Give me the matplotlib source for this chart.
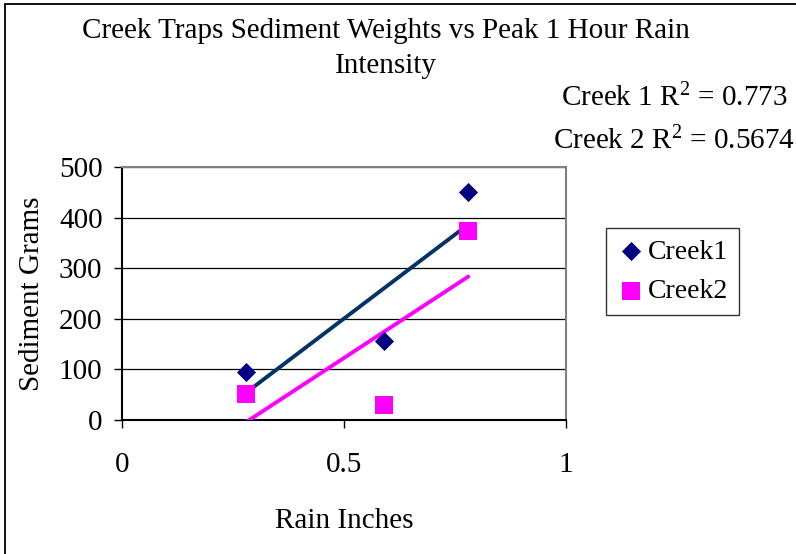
import numpy as np
import matplotlib
matplotlib.use('Agg')
import matplotlib.pyplot as plt
from matplotlib.patches import Rectangle

plt.rcParams['font.family'] = ['Liberation Serif', 'DejaVu Serif']
plt.rcParams['mathtext.default'] = 'regular'

# data
rain_inches = [0.28, 0.59, 0.78]
creek1 = [94, 156, 451]
creek2 = [51, 30, 373]
r2_labels = ['Creek 1 R$^{2}$ = 0.773', 'Creek 2 R$^{2}$ = 0.5674']
x_ticks = [0, 0.5, 1]
x_tick_labels = ['0', '0.5', '1']
y_ticks = [0, 100, 200, 300, 400, 500]

W, H = 796, 554


def main():
    fig = plt.figure(figsize=(W / 100, H / 100), dpi=100)

    # outer chart frame (only top and left edges are visible)
    fig.add_artist(Rectangle((5 / W, -0.1), 1.2, 1 - 4 / H + 0.1,
                             transform=fig.transFigure, fill=False,
                             edgecolor='black', linewidth=1.3))

    ax = fig.add_axes([122 / W, 1 - 420 / H, 444 / W, 253 / H])

    x = np.array(rain_inches)
    # linear trendlines
    for ys, col in [(creek1, '#003366'), (creek2, '#FF00FF')]:
        m, b = np.polyfit(x, ys, 1)
        ax.plot(x, m * x + b, color=col, linewidth=2.8,
                solid_capstyle='round', zorder=3)

    ax.scatter(rain_inches, creek1, marker='D', s=95, color='#000080',
               label='Creek1', zorder=4, linewidths=0)
    ax.scatter(rain_inches, creek2, marker='s', s=150, color='#FF00FF',
               label='Creek2', zorder=4, linewidths=0)

    ax.set_xlim(0, 1)
    ax.set_ylim(0, 500)
    ax.set_xticks(x_ticks)
    ax.set_xticklabels(x_tick_labels)
    ax.set_yticks(y_ticks)
    ax.tick_params(axis='both', labelsize=21, direction='out', length=6,
                   width=1, colors='black')
    ax.tick_params(axis='x', pad=17)
    ax.tick_params(axis='y', pad=8)
    ax.yaxis.grid(True, color='black', linewidth=0.9)
    ax.set_axisbelow(True)

    for side in ['top', 'right']:
        ax.spines[side].set_color('#808080')
        ax.spines[side].set_linewidth(1.5)
    for side in ['left', 'bottom']:
        ax.spines[side].set_color('black')
        ax.spines[side].set_linewidth(1.5)

    ax.set_xlabel('Rain Inches', fontsize=21, labelpad=22)
    ax.set_ylabel('Sediment Grams', fontsize=21, labelpad=10)

    fig.text(386 / W, 1 - 18 / H,
             'Creek Traps Sediment Weights vs Peak 1 Hour Rain\nIntensity',
             ha='center', va='top', fontsize=21, linespacing=1.45)

    fig.text(561 / W, 1 - 98 / H, r2_labels[0], ha='left', va='center',
             fontsize=21)
    fig.text(553 / W, 1 - 141 / H, r2_labels[1], ha='left', va='center',
             fontsize=21)

    leg = ax.legend(loc='upper left', bbox_to_anchor=(606 / W, 1 - 228 / H),
                    bbox_transform=fig.transFigure, fontsize=20,
                    frameon=True, fancybox=False, edgecolor='black',
                    handletextpad=0.1, borderpad=0.4, labelspacing=0.5,
                    handlelength=1.0, borderaxespad=0, scatterpoints=1)
    leg.get_frame().set_linewidth(1.0)

    fig.savefig('out.png', dpi=100)


if __name__ == '__main__':
    main()
